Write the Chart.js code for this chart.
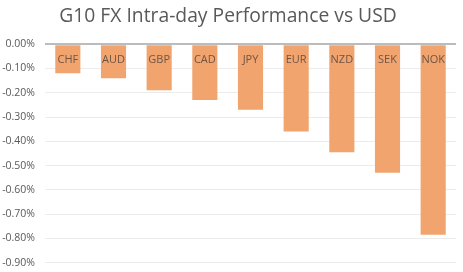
<!DOCTYPE html>
<html>
<head>
<meta charset="utf-8">
<script src="https://cdn.jsdelivr.net/npm/chart.js@4"></script>
<style>
  body { margin: 0; background: #fff; }
</style>
</head>
<body>
<canvas id="canvas" width="463" height="272"></canvas>
<script>
const currencies = ["CHF", "AUD", "GBP", "CAD", "JPY", "EUR", "NZD", "SEK", "NOK"];
const performance = [-0.12, -0.14, -0.19, -0.23, -0.27, -0.36, -0.445, -0.53, -0.785];
const yTicks = [0, -0.1, -0.2, -0.3, -0.4, -0.5, -0.6, -0.7, -0.8, -0.9];

// draw currency names just under the zero line, inside each bar
const barLabels = {
  id: "barLabels",
  afterDatasetsDraw(chart) {
    const ctx = chart.ctx;
    const x = chart.scales.x;
    const y = chart.scales.y;
    ctx.save();
    ctx.font = "11px 'Open Sans', sans-serif";
    ctx.fillStyle = "#6e5544";
    ctx.textAlign = "center";
    ctx.textBaseline = "middle";
    currencies.forEach((c, i) => {
      ctx.fillText(c, x.getPixelForValue(i), y.getPixelForValue(0) + 16);
    });
    ctx.restore();
  }
};

new Chart(document.getElementById("canvas"), {
  type: "bar",
  data: {
    labels: currencies,
    datasets: [{
      data: performance,
      backgroundColor: "#F2A46F",
      barPercentage: 0.55,
      categoryPercentage: 1
    }]
  },
  plugins: [barLabels],
  options: {
    responsive: false,
    animation: false,
    layout: { padding: { left: 0, right: 7, top: 0, bottom: 0 } },
    plugins: {
      legend: { display: false },
      tooltip: { enabled: false },
      title: {
        display: true,
        text: "G10 FX Intra-day Performance vs USD",
        color: "#595959",
        font: { family: "'Open Sans', sans-serif", size: 19.3, weight: "normal" },
        padding: { top: 5, bottom: 16 }
      }
    },
    scales: {
      x: {
        display: false
      },
      y: {
        min: -0.9,
        max: 0,
        afterBuildTicks(axis) {
          axis.ticks = yTicks.map(v => ({ value: v }));
        },
        afterFit(axis) {
          axis.width = 45;
        },
        border: { display: false },
        grid: {
          color: ctx => ctx.tick && ctx.tick.value === 0 ? "#bcbcbc" : "#ececec",
          lineWidth: ctx => ctx.tick && ctx.tick.value === 0 ? 2 : 1,
          drawTicks: true,
          tickLength: 7,
          tickColor: "rgba(0,0,0,0)"
        },
        ticks: {
          autoSkip: false,
          color: "#595959",
          padding: 3,
          font: { family: "'Open Sans', sans-serif", size: 10.5 },
          callback: v => v.toFixed(2) + "%"
        }
      }
    }
  }
});
</script>
</body>
</html>
